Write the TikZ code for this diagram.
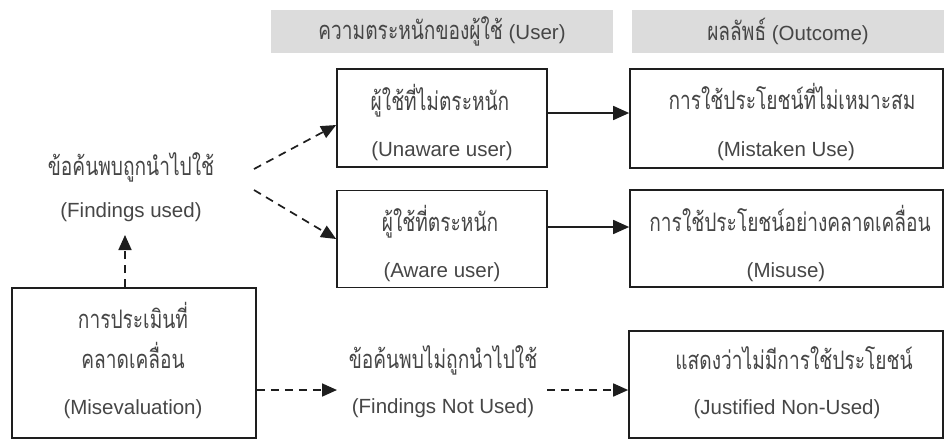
\documentclass[tikz,border=0pt]{standalone}
\usepackage{fontspec}
\setmainfont{Liberation Sans}
\newfontfamily\thai[Script=Thai,FakeStretch=0.75]{Loma}
\usetikzlibrary{arrows.meta,calc}
\definecolor{txt}{HTML}{464646}
\definecolor{ln}{HTML}{1E1E1E}
\definecolor{hdrfill}{HTML}{DCDCDC}
\begin{document}
\begin{tikzpicture}[x=1pt,y=-1pt,
  box/.style={draw=ln,line width=1.7pt,fill=white,inner sep=0pt},
  hdr/.style={fill=hdrfill,inner sep=0pt,text=txt,font=\fontsize{20.5}{24}\selectfont},
  thf/.style={font=\thai\fontsize{25.5}{28}\selectfont},
  th/.style={anchor=base,inner sep=0pt,text=txt,thf},
  en/.style={anchor=base,inner sep=0pt,text=txt,font=\fontsize{20.5}{24}\selectfont},
  dasharrow/.style={draw=ln,line width=1.7pt,dash pattern=on 8pt off 6pt,-{Triangle[length=15pt,width=13pt]}},
  solidarrow/.style={draw=ln,line width=1.7pt,-{Triangle[length=16pt,width=14pt]}}]
\useasboundingbox[fill=white] (0,0) rectangle (944,440);

% headers
\node[hdr,minimum width=342pt,minimum height=43pt] (hUser) at (442,31.5) {{\thai\fontsize{25.5}{28}\selectfont ความตระหนักของผู้ใช้} (User)};
\node[hdr,minimum width=312pt,minimum height=43pt] (hOut) at (788,31.5) {{\thai\fontsize{25.5}{28}\selectfont ผลลัพธ์} (Outcome)};

% boxes
\node[box,minimum width=210pt,minimum height=98pt] (unaware) at (442,118) {};
\node[box,minimum width=210pt,minimum height=97pt] (aware) at (442,239) {};
\node[box,minimum width=313pt,minimum height=99pt] (mistaken) at (786.5,118.5) {};
\node[box,minimum width=313pt,minimum height=97pt] (misuse) at (786.5,238.5) {};
\node[box,minimum width=314pt,minimum height=107pt] (justified) at (786,384.5) {};
\node[box,minimum width=244pt,minimum height=150pt] (miseval) at (134,363) {};

% texts
\node[th] (unawareTh) at (440,110) {ผู้ใช้ที่ไม่ตระหนัก};
\node[en] (unawareEn) at (442,156) {(Unaware user)};
\node[th] (awareTh) at (440,231) {ผู้ใช้ที่ตระหนัก};
\node[en] (awareEn) at (442,277) {(Aware user)};
\node[th] (mistakenTh) at (792,109) {การใช้ประโยชน์ที่ไม่เหมาะสม};
\node[en] (mistakenEn) at (786,156) {(Mistaken Use)};
\node[th] (misuseTh) at (790,231) {การใช้ประโยชน์อย่างคลาดเคลื่อน};
\node[en] (misuseEn) at (786,277) {(Misuse)};
\node[th] (fuTh) at (131,175) {ข้อค้นพบถูกนำไปใช้};
\node[en] (fuEn) at (131,217) {(Findings used)};
\node[th] (misevalTh1) at (133,328) {การประเมินที่};
\node[th] (misevalTh2) at (133,368) {คลาดเคลื่อน};
\node[en] (misevalEn) at (133,414) {(Misevaluation)};
\node[th] (fnuTh) at (443,368) {ข้อค้นพบไม่ถูกนำไปใช้};
\node[en] (fnuEn) at (443,413) {(Findings Not Used)};
\node[th] (justTh) at (794,369) {แสดงว่าไม่มีการใช้ประโยชน์};
\node[en] (justEn) at (787,414) {(Justified Non-Used)};

% connector ends
\coordinate (fuBottom) at (125,235);
\coordinate (fuOut1) at (254,169);
\coordinate (fuOut2) at (254,190);
\coordinate (fnuIn) at (337,390);
\coordinate (fnuOut) at (547,390);

% connectors
\draw[dasharrow] (fuBottom |- miseval.north) -- (fuBottom);
\draw[dasharrow] (fuOut1) -- ([yshift=-7pt]unaware.west);
\draw[dasharrow] (fuOut2) -- (aware.west);
\draw[solidarrow] ([yshift=5pt]unaware.east) -- ([yshift=5pt]unaware.east -| mistaken.west);
\draw[solidarrow] ([yshift=12pt]aware.east) -- ([yshift=12pt]aware.east -| misuse.west);
\draw[dasharrow] (fnuIn -| miseval.east) -- (fnuIn);
\draw[dasharrow] (fnuOut) -- (fnuOut -| justified.west);
\end{tikzpicture}
\end{document}
